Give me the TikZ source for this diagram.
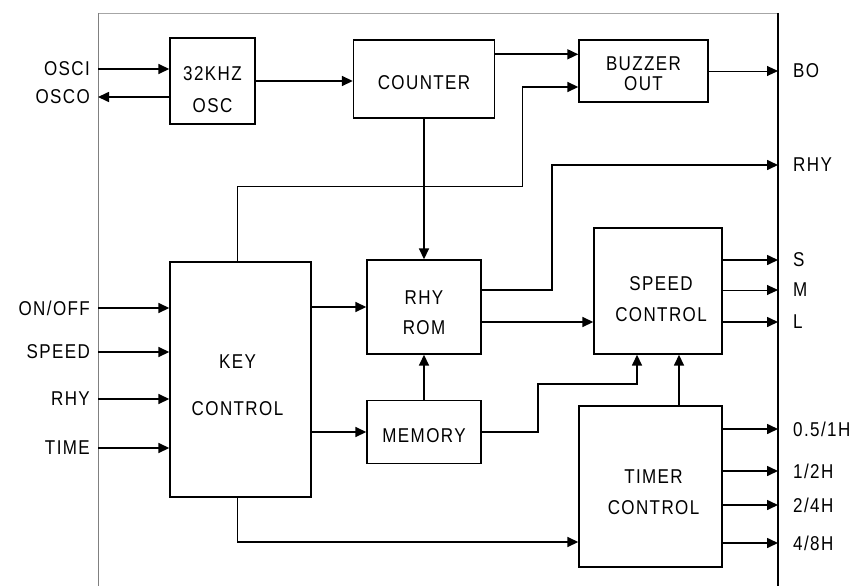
\documentclass[tikz,border=0pt]{standalone}
\usepackage{fontspec}
\setmainfont{Liberation Sans}[LetterSpace=7,FakeStretch=0.85]
\usetikzlibrary{arrows.meta,positioning}

\begin{document}
\begin{tikzpicture}[x=1pt,y=-1pt,font=\fontsize{20}{21}\selectfont]
	\tikzstyle{block} = [draw,line width=1.4pt,inner sep=0pt];
	\tikzstyle{txt} = [align=center,inner sep=0pt];
	\tikzstyle{pinl} = [anchor=east,inner xsep=8pt,inner ysep=0pt];
	\tikzstyle{pinr} = [anchor=west,inner xsep=15pt,inner ysep=0pt];
	\tikzstyle{arr} = [-{Triangle[length=11pt,width=10pt]},line width=1.6pt];
	\tikzstyle{thin arr} = [-{Triangle[length=11pt,width=10pt]},line width=0.9pt];
	\useasboundingbox (0,0) rectangle (856,586);
	\draw[gray!70,line width=0.8pt] (98,13) -- (778,13);
	\draw[gray,line width=1pt] (98,13) -- (98,586);
	\draw[line width=1.5pt] (778,13) -- (778,586);
	\node at (212.5,81) (osc) [block,minimum width=85,minimum height=86,label={[txt,yshift=-9pt]center:32KHZ\\[11pt]OSC}] {};
	\node at (424,79) (counter) [block,minimum width=141,minimum height=78,label={[txt,yshift=-4pt]center:COUNTER}] {};
	\node at (643.5,71) (buzzer) [block,minimum width=129,minimum height=62,label={[txt,yshift=-3pt]center:BUZZER\\[-1pt]OUT}] {};
	\node at (240.5,379.5) (key) [block,minimum width=141,minimum height=235,label={[txt,xshift=-3pt,yshift=-6pt]center:KEY\\[26pt]CONTROL}] {};
	\node at (424,307) (rom) [block,minimum width=114,minimum height=94,label={[txt,yshift=-6pt]center:RHY\\[9pt]ROM}] {};
	\node at (424,432) (memory) [block,minimum width=114,minimum height=63,label={[txt,yshift=-4pt]center:MEMORY}] {};
	\node at (658,291) (speed) [block,minimum width=128,minimum height=126,label={[txt,xshift=3pt,yshift=-8pt]center:SPEED\\[10pt]CONTROL}] {};
	\node at (650.5,486.5) (timer) [block,minimum width=143,minimum height=161,label={[txt,xshift=3pt,yshift=-6pt]center:TIMER\\[10pt]CONTROL}] {};
	\node at (98,69) (osci) [pinl] {OSCI};
	\node at (98,97) (osco) [pinl] {OSCO};
	\node at (98,308) (onoff) [pinl] {ON/OFF};
	\node at (98,352) (speedin) [pinl] {SPEED};
	\node at (98,399) (rhyin) [pinl] {RHY};
	\node at (98,448) (time) [pinl] {TIME};
	\node at (778,71) (bo) [pinr] {BO};
	\node at (778,165) (rhyout) [pinr] {RHY};
	\node at (778,260) (s) [pinr] {S};
	\node at (778,290) (m) [pinr] {M};
	\node at (778,322) (l) [pinr] {L};
	\node at (778,429) (h1) [pinr] {0.5/1H};
	\node at (778,471) (h2) [pinr] {1/2H};
	\node at (778,505) (h4) [pinr] {2/4H};
	\node at (778,543) (h8) [pinr] {4/8H};
	\draw[arr] (osci.east) -- (osci.east -| osc.west);
	\draw[arr] (osco.east -| osc.west) -- (osco.east);
	\draw[arr] (osc.east) -- (osc.east -| counter.west);
	\draw[arr] ([yshift=-15pt]counter.north east) -- ([yshift=-15pt]buzzer.north west);
	\draw[thin arr] (buzzer.east) -- (bo.west);
	\draw[arr] (counter.south) -- (rom.north);
	\draw[arr] ([xshift=-3pt]key.north) -- ++(0,-75) -| ([xshift=-56pt,yshift=-16pt]buzzer.west) -- ([yshift=-16pt]buzzer.west);
	\draw[arr] (onoff.east) -- (onoff.east -| key.west);
	\draw[arr] (speedin.east) -- (speedin.east -| key.west);
	\draw[arr] (rhyin.east) -- (rhyin.east -| key.west);
	\draw[arr] (time.east) -- (time.east -| key.west);
	\draw[arr] (key.east |- rom.west) -- (rom.west);
	\draw[arr] (key.east |- memory.west) -- (memory.west);
	\draw[arr] (memory.north) -- (rom.south);
	\draw[arr] ([yshift=17pt]rom.east) -- ++(70,0) |- (rhyout.west);
	\draw[arr] ([yshift=-15pt]rom.east) -- ([yshift=-15pt]rom.east -| speed.west);
	\draw[arr] (memory.east) -- ++(56,0) -- ++(0,-48) -| ([xshift=-21pt]speed.south);
	\draw[arr] ([xshift=28.5pt]timer.north) -- ([xshift=28.5pt]timer.north |- speed.south);
	\draw[arr] ([xshift=-3pt]key.south) |- ([yshift=-55.5pt]timer.west);
	\draw[arr] (speed.east |- s.west) -- (s.west);
	\draw[thin arr] (speed.east |- m.west) -- (m.west);
	\draw[arr] (speed.east |- l.west) -- (l.west);
	\draw[arr] (timer.east |- h1.west) -- (h1.west);
	\draw[arr] (timer.east |- h2.west) -- (h2.west);
	\draw[arr] (timer.east |- h4.west) -- (h4.west);
	\draw[arr] (timer.east |- h8.west) -- (h8.west);
\end{tikzpicture}
\end{document}
